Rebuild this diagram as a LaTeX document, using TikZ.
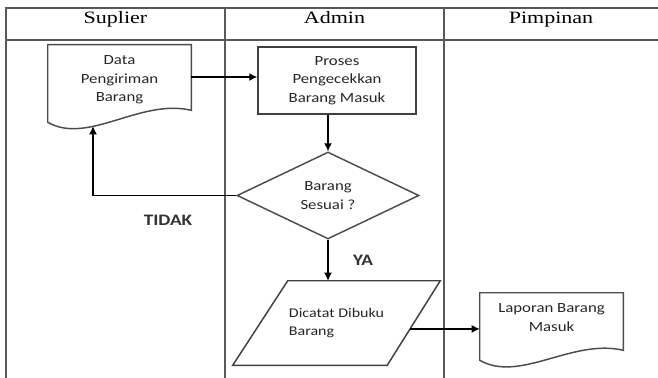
\documentclass[tikz,border=0pt]{standalone}
\usepackage{fontspec}
\setmainfont{Liberation Serif}[FakeStretch=1.27]
\newfontfamily\bodyfont{Carlito}[FakeStretch=1.2]
\usetikzlibrary{shapes.geometric,arrows.meta,calc}

\tikzset{
	lane/.style={line width=1.5pt, draw=black!65},
	shapeline/.style={line width=1.1pt, draw=black!70},
	txt/.style={font=\bodyfont\fontsize{10.5}{14}\selectfont, text=black!85, align=center, inner sep=0pt},
	arr/.style={line width=1pt, -{Latex[length=6pt,width=6pt]}},
	lbl/.style={font=\bodyfont\bfseries\fontsize{12}{14}\selectfont, text=black!80}
}

% document outline with a wavy bottom
\newcommand{\docoutline}[3]{%
	\draw[shapeline] (#1.north west) -- (#1.north east) -- ([shift={(0,#3)}]#1.south east)
		.. controls +(-51,-12) and +(40,23) .. ([shift={(0,#2)}]#1.south west) -- cycle;}

\begin{document}
\begin{tikzpicture}[x=0.75pt, y=-0.75pt]
		\useasboundingbox (0,0) rectangle (658,378);
		
		% Swimlanes
		\draw[lane] (658,8) -- (6,8) -- (6,378);
		\draw[lane] (6,40) -- (658,40);
		\draw[lane] (225,8) -- (225,378);
		\draw[lane] (444,8) -- (444,378);
		\node[anchor=base, font=\fontsize{13}{15}\selectfont] (hsup) at (115.5,23.5) {Suplier};
		\node[anchor=base, font=\fontsize{13}{15}\selectfont] (hadm) at (334.5,23.5) {Admin};
		\node[anchor=base, font=\fontsize{13}{15}\selectfont] (hpim) at (551,23.5) {Pimpinan};
		
		% Suplier
		\node[txt, minimum width=107.25pt, minimum height=52.5pt] (doc1) at (119.5,80) {Data\\Pengiriman\\Barang};
		\docoutline{doc1}{7}{-5}
		
		% Admin
		\node[txt, draw, line width=1.1pt, draw=black!75, minimum width=118.5pt, minimum height=50.25pt] (proc) at (337,80.5) {Proses\\Pengecekkan\\Barang Masuk};
		\node[txt, diamond, draw, line width=1.1pt, draw=black!70, minimum width=136.5pt, minimum height=65.25pt] (dec) at (328,195.5) {Barang\\Sesuai ?};
		\node[txt, minimum width=155.25pt, minimum height=63pt, align=left, font=\bodyfont\fontsize{10}{14}\selectfont] (para) at (336.5,323) {Dicatat Dibuku\\Barang};
		\draw[shapeline, draw=black!75] ([shift={(55,0)}]para.north west) -- (para.north east)
			-- ([shift={(-53,0)}]para.south east) -- (para.south west) -- cycle;
		
		% Pimpinan
		\node[txt, minimum width=107.25pt, minimum height=36.75pt] (doc2) at (551.5,317.5) {Laporan Barang\\Masuk};
		\docoutline{doc2}{18}{8}
		
		% Flow
		\coordinate (aout) at ([shift={(0,-3)}]doc1.east);
		\draw[arr] (aout) -- (aout -| proc.west);
		\draw[arr] (dec.north |- proc.south) -- (dec.north);
		\coordinate (ret) at ([shift={(-26.5,11)}]doc1.south);
		\draw[arr] (dec.west) -| (ret);
		\draw[arr] (dec.south) -- (dec.south |- para.north);
		\coordinate (pout) at ($(para.north east)!0.57!([shift={(-53,0)}]para.south east)$);
		\draw[arr] (pout) -- (pout -| doc2.west);
		\node[lbl] (tidak) at (168,220) {TIDAK};
		\node[lbl] (ya) at (363,260) {YA};
		
	\end{tikzpicture}
\end{document}
